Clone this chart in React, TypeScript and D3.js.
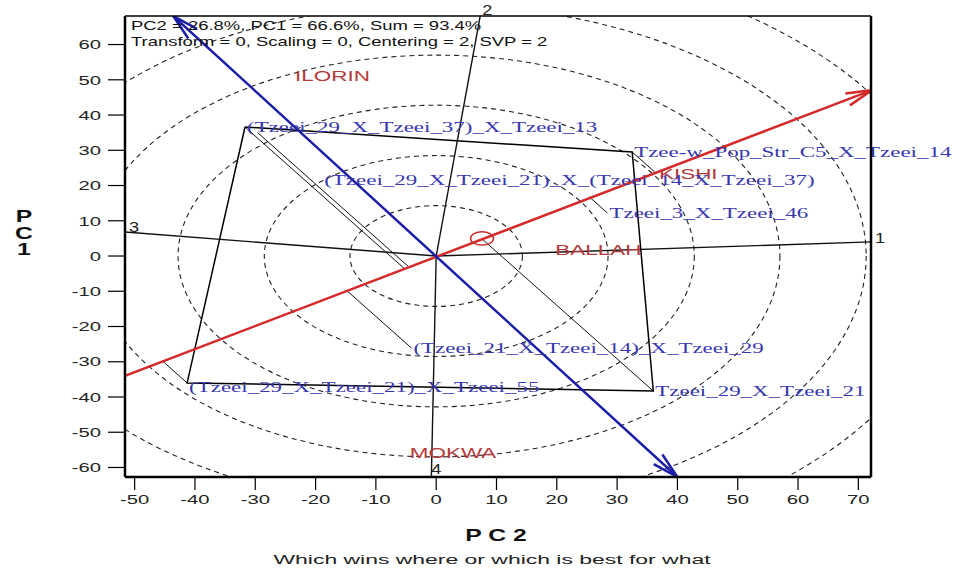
import React from 'react'
import * as d3 from 'd3'

// axis ranges
const xDomain = [-51.6, 72.1]
const yDomain = [-62.7, 68.1]
const xTicks = [-50, -40, -30, -20, -10, 0, 10, 20, 30, 40, 50, 60, 70]
const yTicks = [-60, -50, -40, -30, -20, -10, 0, 10, 20, 30, 40, 50, 60]

// environments (PC2, PC1)
const envNames = ['ILORIN', 'KISHI', 'BALLAH', 'MOKWA']
const envPC2 = [-17.2, 41.8, 26.9, 2.8]
const envPC1 = [51.1, 23.5, 1.7, -55.9]

// genotypes: marker position and where the label sits
const genoNames = [
  '(Tzeei_29_X_Tzeei_37)_X_Tzeei_13',
  'Tzee-w_Pop_Str_C5_X_Tzeei_14',
  '(Tzeei_29_X_Tzeei_21)_X_(Tzeei_14_X_Tzeei_37)',
  'Tzeei_3_X_Tzeei_46',
  '(Tzeei_21_X_Tzeei_14)_X_Tzeei_29',
  'Tzeei_29_X_Tzeei_21',
  '(Tzeei_29_X_Tzeei_21)_X_Tzeei_55',
]
const genoPC2 = [-31.7, 32.5, -29.6, 28.4, -4.1, 36.0, -41.3]
const genoPC1 = [36.6, 29.5, 35.0, 12.2, -26.1, -38.3, -36.0]
const genoLabelPC2 = [-31.7, 32.5, -18.9, 28.4, -4.1, 36.0, -41.3]
const genoLabelPC1 = [36.6, 29.5, 21.6, 12.2, -26.1, -38.3, -37.0]

// polygon vertices (index into genotypes)
const hull = [0, 1, 5, 6]

// sector rays from origin
const rayNames = ['1', '2', '3', '4']
const rayPC2 = [72.1, 7.3, -51.6, -0.8]
const rayPC1 = [4.0, 68.1, 6.8, -62.7]

// concentric rings
const ringRadii = [14.3, 28.5, 42.8, 57.0, 71.3, 85.5]

// average environment
const avgEnv = [7.6, 5.0]
const avgEnvRadius = 1.9
const abscissaEnds = [[-51.6, -34.0], [72.3, 47.1]]
const ordinateEnds = [[-43.6, 68.1], [40.0, -62.7]]

const L = 125, R = 871, T = 16, B = 477

const sans = 'Liberation Sans, Arial, sans-serif'
const serif = 'Liberation Serif, Times New Roman, serif'

function St({ x, y, s, children, ...rest }: any) {
  return (
    <text transform={`translate(${x},${y}) scale(${s},1)`} {...rest}>
      {children}
    </text>
  )
}

function barbs(tip: number[], from: number[], len = 27, ang = 0.24) {
  const a = Math.atan2(from[1] - tip[1], from[0] - tip[0])
  const p1 = [tip[0] + len * Math.cos(a + ang), tip[1] + len * Math.sin(a + ang)]
  const p2 = [tip[0] + len * Math.cos(a - ang), tip[1] + len * Math.sin(a - ang)]
  return `M${p1[0]},${p1[1]}L${tip[0]},${tip[1]}L${p2[0]},${p2[1]}`
}

export default function App() {
  const x = d3.scaleLinear().domain(xDomain).range([L, R])
  const y = d3.scaleLinear().domain(yDomain).range([B, T])
  const ox = x(0), oy = y(0)

  const norm = Math.hypot(avgEnv[0], avgEnv[1])
  const u = [avgEnv[0] / norm, avgEnv[1] / norm]
  const foot = (i: number) => {
    const d = genoPC2[i] * u[0] + genoPC1[i] * u[1]
    return [d * u[0], d * u[1]]
  }

  const line = d3.line<number>().x(i => x(genoPC2[i])).y(i => y(genoPC1[i]))
  const polyPath = line([...hull, hull[0]]) as string

  const ab0 = [x(abscissaEnds[0][0]), y(abscissaEnds[0][1])]
  const ab1 = [x(abscissaEnds[1][0]), y(abscissaEnds[1][1])]
  const or0 = [x(ordinateEnds[0][0]), y(ordinateEnds[0][1])]
  const or1 = [x(ordinateEnds[1][0]), y(ordinateEnds[1][1])]

  const rayLabelOff = [[9, -4], [7, -6], [9, -5], [5, -8]]

  return (
    <svg width={965} height={569} style={{ position: 'absolute', left: 0, top: 0, background: '#fff' }}>
      <defs>
        <clipPath id="plot">
          <rect x={L} y={T} width={R - L} height={B - T} />
        </clipPath>
      </defs>

      <g clipPath="url(#plot)">
        {ringRadii.map(r => (
          <ellipse key={r} cx={ox} cy={oy} rx={x(r) - ox} ry={oy - y(r)}
            fill="none" stroke="#222" strokeWidth={1.1} strokeDasharray="5 4" />
        ))}

        {/* projection lines onto the average environment axis */}
        {genoNames.map((g, i) => {
          const f = foot(i)
          return <line key={g} x1={x(genoPC2[i])} y1={y(genoPC1[i])} x2={x(f[0])} y2={y(f[1])}
            stroke="#111" strokeWidth={1} />
        })}

        {rayNames.map((r, i) => (
          <line key={r} x1={ox} y1={oy} x2={x(rayPC2[i])} y2={y(rayPC1[i])} stroke="#111" strokeWidth={1.4} />
        ))}

        <path d={polyPath} fill="none" stroke="#000" strokeWidth={1.5} />

        <line x1={ab0[0]} y1={ab0[1]} x2={ab1[0]} y2={ab1[1]} stroke="#d42a2a" strokeWidth={2.5} />
        <path d={barbs(ab1, ab0)} fill="none" stroke="#d42a2a" strokeWidth={2.5} />
        <ellipse cx={x(avgEnv[0])} cy={y(avgEnv[1])} rx={x(avgEnvRadius) - ox} ry={oy - y(avgEnvRadius)}
          fill="none" stroke="#c83030" strokeWidth={1.5} />

        <line x1={or0[0]} y1={or0[1]} x2={or1[0]} y2={or1[1]} stroke="#1c1ca8" strokeWidth={2.5} />
        <path d={barbs(or1, or0)} fill="none" stroke="#1c1ca8" strokeWidth={2.5} />
        <path d={barbs(or0, or1)} fill="none" stroke="#1c1ca8" strokeWidth={2.5} />
      </g>

      {/* labels */}
      {envNames.map((e, i) => (
        <St key={e} x={x(envPC2[i])} y={y(envPC1[i])} s={1.45} dy="0.35em" textAnchor="middle"
          fontFamily={sans} fontSize={15.5} fill="#b53a3a">{e}</St>
      ))}
      {genoNames.map((g, i) => (
        <St key={g} x={x(genoLabelPC2[i]) + 2} y={y(genoLabelPC1[i])} s={1.53} dy="0.35em"
          fontFamily={serif} fontSize={15} fill="#3636b0">{g}</St>
      ))}
      {rayNames.map((r, i) => (
        <St key={r} x={x(rayPC2[i]) + rayLabelOff[i][0]} y={y(rayPC1[i]) + rayLabelOff[i][1]} s={1.3}
          dy="0.35em" textAnchor="middle" fontFamily={sans} fontSize={14} fill="#222">{r}</St>
      ))}

      {/* header */}
      <St x={L + 6} y={30} s={1.42} fontFamily={sans} fontSize={13} fill="#111">
        PC2 = 26.8%, PC1 = 66.6%, Sum = 93.4%
      </St>
      <St x={L + 6} y={46} s={1.42} fontFamily={sans} fontSize={13} fill="#111">
        Transform = 0, Scaling = 0, Centering = 2, SVP = 2
      </St>

      {/* frame */}
      <line x1={L} y1={T} x2={R} y2={T} stroke="#000" strokeWidth={1.5} />
      <line x1={L} y1={T} x2={L} y2={B} stroke="#000" strokeWidth={2.5} />
      <line x1={R} y1={T} x2={R} y2={B} stroke="#000" strokeWidth={2.5} />
      <line x1={L} y1={B} x2={R} y2={B} stroke="#000" strokeWidth={2.5} />

      {/* x axis */}
      {xTicks.map(t => (
        <g key={t}>
          <line x1={x(t)} y1={B} x2={x(t)} y2={B + 13} stroke="#000" strokeWidth={1.2} />
          <St x={x(t)} y={504} s={1.5} textAnchor="middle" fontFamily={sans} fontSize={13.5} fill="#222">{t}</St>
        </g>
      ))}
      {/* y axis */}
      {yTicks.map(t => (
        <g key={t}>
          <line x1={L - 17} y1={y(t)} x2={L} y2={y(t)} stroke="#000" strokeWidth={1.2} />
          <St x={101} y={y(t)} s={1.5} dy="0.35em" textAnchor="end" fontFamily={sans} fontSize={13.5} fill="#222">{t}</St>
        </g>
      ))}

      <St x={496} y={541} s={1.5} textAnchor="middle" fontFamily={sans} fontSize={16.5} fontWeight="bold" fill="#111">
        P C 2
      </St>
      {['P', 'C', '1'].map((c, i) => (
        <St key={c} x={24} y={222 + i * 16.5} s={1.5} textAnchor="middle" fontFamily={sans} fontSize={16.5}
          fontWeight="bold" fill="#111">{c}</St>
      ))}
      <St x={492} y={564} s={1.7} textAnchor="middle" fontFamily={sans} fontSize={13.5} fill="#222">
        Which wins where or which is best for what
      </St>
    </svg>
  )
}
